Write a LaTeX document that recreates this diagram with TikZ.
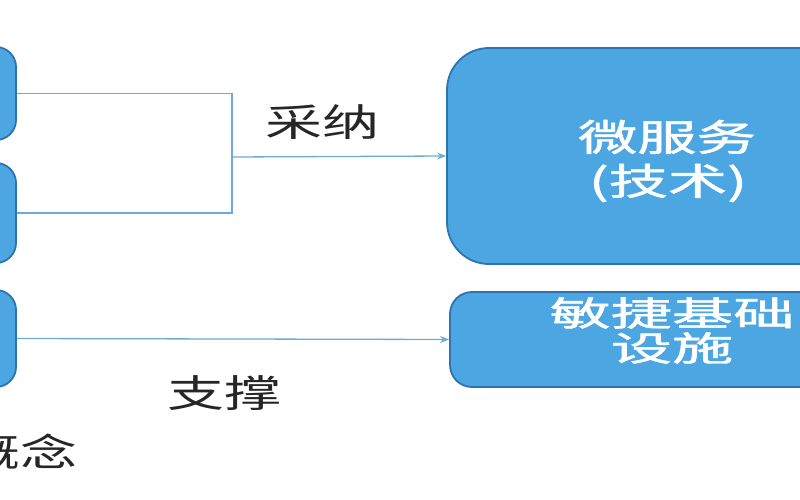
\documentclass[tikz,border=0pt]{standalone}
\usepackage{fontspec}
\setmainfont{Noto Sans CJK SC}
\newfontfamily\boxfont[FakeBold=1.2]{Noto Sans CJK SC}
\usetikzlibrary{arrows.meta}
\definecolor{boxfill}{RGB}{76,166,226}
\definecolor{boxline}{RGB}{45,115,175}
\definecolor{conn}{RGB}{110,170,212}
\begin{document}
\begin{tikzpicture}[x=1pt,y=-1pt,
  bluebox/.style={draw=boxline, line width=1.8pt, fill=boxfill, rounded corners=#1, inner sep=0pt},
  bluebox/.default=20pt,
  wtext/.style={text=white, inner sep=0pt, align=center, font=\boxfont},
  ktext/.style={text=black!85, inner sep=0pt},
  conline/.style={draw=conn, line width=1.3pt},
  arr/.style={conline, -{Stealth[length=9pt,width=7pt]}}]
\useasboundingbox (0,0) rectangle (800,500);
\clip (0,0) rectangle (800,500);
% left boxes (cut off at left edge)
\node[bluebox, minimum width=76pt, minimum height=93pt] (b1) at (-22,93.5) {};
\node[bluebox, minimum width=76pt, minimum height=100pt] (b2) at (-22,213) {};
\node[bluebox, minimum width=76pt, minimum height=97pt] (b3) at (-22,338.5) {};
% right boxes (cut off at right edge)
\node[bluebox=42pt, minimum width=450pt, minimum height=216pt] (ms) at (672,156) {};
\node[bluebox=22pt, minimum width=450pt, minimum height=95pt] (ai) at (675,339.5) {};
% box texts
\node[wtext] (mst1) at (667,137) {\scalebox{1.6}[1]{\fontsize{37}{40}\selectfont 微服务}};
\node[wtext] (mst2) at (668,183) {\scalebox{1.6}[1]{\fontsize{37}{40}\selectfont (技术)}};
\node[wtext] (ait1) at (672,313) {\scalebox{1.8}[1]{\fontsize{34}{36}\selectfont 敏捷基础}};
\node[wtext] (ait2) at (672,348) {\scalebox{1.8}[1]{\fontsize{34}{36}\selectfont 设施}};
% connectors
\coordinate (j) at (232,157);
\draw[conline] (b1.east) -| (j);
\draw[conline] (b2.east) -| (j);
\draw[arr] (j) -- (ms.west);
\draw[arr] (b3.east) -- (ai.west);
% labels
\node[ktext] (l1) at (322,122) {\scalebox{1.5}[1]{\fontsize{38}{40}\selectfont 采纳}};
\node[ktext] (l2) at (224,393) {\scalebox{1.5}[1]{\fontsize{38}{40}\selectfont 支撑}};
\node[ktext, anchor=east] (l3) at (78,452) {\scalebox{1.5}[1]{\fontsize{38}{40}\selectfont 概念}};
\end{tikzpicture}
\end{document}
